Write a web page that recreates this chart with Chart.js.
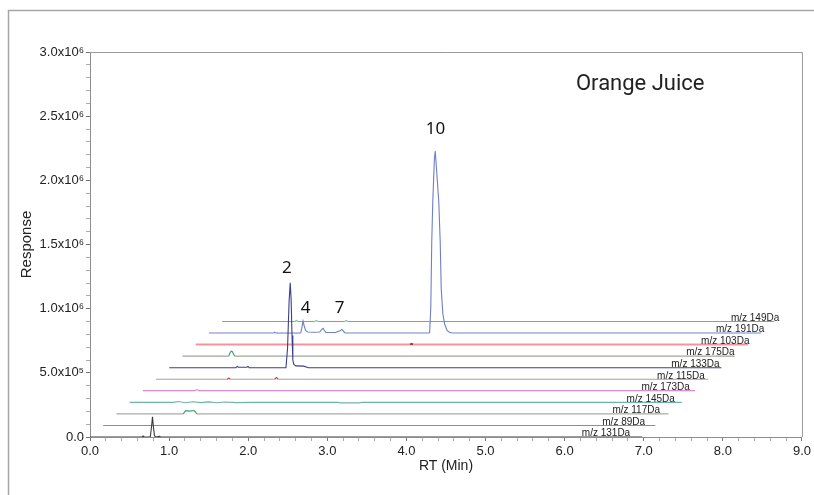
<!DOCTYPE html>
<html>
<head>
<meta charset="utf-8">
<script src="https://cdn.jsdelivr.net/npm/chart.js@4.4.1/dist/chart.umd.min.js"></script>
<style>
    html, body { margin: 0; padding: 0; background: #fff; }
    #wrap { width: 814px; height: 495px; }
</style>
</head>
<body>
<div id="wrap"><canvas id="chromChart" width="814" height="495"></canvas></div>
<script>
// Trazas del cromatograma: [RT relativo (min), respuesta relativa]
const trace131 = [[0, 0], [0.66, 0], [0.67, 8000], [0.68, 0], [0.762, 0], [0.778, 80000], [0.79, 158000], [0.80, 90000], [0.815, 10000], [0.83, 0], [0.88, 6000], [0.89, 0], [6.98, 0]];
const trace89 = [[0, 0], [6.98, 0]];
const trace117 = [[0, 0], [0.845, 0], [0.875, 25000], [0.93, 22000], [0.98, 26000], [1.0, 15000], [1.015, 0], [6.98, 0]];
const trace145 = [[0, 0], [0.55, 0], [0.62, 6000], [0.7, -3000], [0.8, 5000], [0.9, -2000], [1.0, 4000], [1.1, -3000], [1.2, 3000], [1.35, -2000], [1.55, 0], [2.64, 0], [2.66, -4000], [2.91, -4000], [2.93, 0], [6.98, 0]];
const trace173 = [[0, 0], [0.66, 0], [0.683, 10000], [0.705, 0], [6.98, 0]];
const trace115 = [[0, 0], [0.9, 0], [0.92, 8000], [0.94, 0], [1.5, 0], [1.522, 14000], [1.545, 0], [6.98, 0]];
const trace133 = [[0, 0], [0.84, 0], [0.86, 10000], [0.875, 4000], [0.98, 4000], [0.995, 10000], [1.01, 0], [1.475, 0], [1.495, 150000], [1.515, 520000], [1.529, 662000], [1.54, 540000], [1.552, 250000], [1.562, 60000], [1.575, 25000], [1.6, 14000], [1.7, 12000], [1.76, 0], [6.98, 0]];
const trace175 = [[0, 0], [0.585, 0], [0.6, 25000], [0.615, 39000], [0.63, 36000], [0.645, 15000], [0.66, 0], [6.98, 0]];
const trace103 = [[0, 0], [2.71, 0], [2.729, 6000], [2.75, 0], [6.98, 0]];
const trace191 = [[0, 0], [0.82, 0], [0.832, 7000], [0.845, 0], [1.16, 0], [1.175, 40000], [1.19, 93000], [1.205, 55000], [1.222, 20000], [1.25, 8000], [1.33, 6000], [1.4, 8000], [1.43, 30000], [1.445, 37000], [1.46, 20000], [1.48, 5000], [1.6, 4000], [1.665, 20000], [1.68, 28000], [1.695, 18000], [1.72, 0], [2.79, 0], [2.805, 200000], [2.817, 705000], [2.83, 1021000], [2.85, 1350000], [2.861, 1418000], [2.875, 1300000], [2.906, 1021000], [2.924, 710000], [2.937, 343000], [2.957, 150000], [2.98, 70000], [3.01, 20000], [3.04, 6000], [3.08, 0], [6.98, 0]];
const trace149 = [[0, 0], [0.92, 0], [0.939, 8000], [0.96, 0], [1.17, 0], [1.192, 8000], [1.215, 0], [1.55, 0], [1.57, 8000], [1.59, 0], [6.98, 0]];

const traces = [trace131, trace89, trace117, trace145, trace173, trace115, trace133, trace175, trace103, trace191, trace149];
const traceLabels = ['m/z 131Da', 'm/z 89Da', 'm/z 117Da', 'm/z 145Da', 'm/z 173Da', 'm/z 115Da', 'm/z 133Da', 'm/z 175Da', 'm/z 103Da', 'm/z 191Da', 'm/z 149Da'];

// Desplazamiento entre trazas (vista en cascada)
const rtStep = 0.167;
const respStep = 90000;

// Etiquetas de picos
const peakLabelText = ['2', '4', '7', '10'];
const peakLabelRt = [2.487, 2.727, 3.156, 4.368];
const peakLabelResp = [1317000, 1005000, 1005000, 2400000];

const xTicksMajor = [0, 1, 2, 3, 4, 5, 6, 7, 8, 9];
const yTicksMajor = [0, 500000, 1000000, 1500000, 2000000, 2500000, 3000000];

const lineColors = ['#3a3a3a', '#7b8bd0', '#a8aca4', '#6cb4aa', '#c86cbc', '#aaa29a', '#3c3f8e', '#a2a69c', '#f2949c', '#7282c8', '#939f8c'];
const peakColors = ['#3a3a3a', '#7b8bd0', '#3f9e6a', '#6cb4aa', '#c8a0c0', '#c23a3a', '#3c3f8e', '#3aa064', '#b03030', '#6f7fc6', '#7cc49c'];

const FONT = "'Liberation Sans', Arial, sans-serif";
const SUP = { '5': '\u2075', '6': '\u2076' };

function formatResp(v) {
    v = Math.round(v);
    if (!yTicksMajor.includes(v)) return '';
    if (v === 0) return '0.0';
    const exp = Math.floor(Math.log10(v) + 1e-9);
    const mant = v / Math.pow(10, exp);
    return mant.toFixed(1) + 'x10' + SUP[String(exp)];
}

function isMajorX(v) {
    return xTicksMajor.some(t => Math.abs(t - v) < 1e-6);
}

const datasets = traces.map((pts, i) => ({
    label: traceLabels[i],
    data: pts.map(p => ({ x: p[0] + i * rtStep, y: p[1] + i * respStep })),
    borderColor: lineColors[i],
    borderWidth: i === 8 ? 2 : 1.1,
    pointRadius: 0,
    showLine: true,
    fill: false,
    tension: 0,
    segment: {
        borderColor: ctx => (pts[ctx.p0DataIndex][1] !== 0 || pts[ctx.p1DataIndex][1] !== 0) ? peakColors[i] : lineColors[i]
    }
}));

// Marcos, etiquetas de trazas, de picos y título
const decorPlugin = {
    id: 'decor',
    beforeDraw(chart) {
        const c = chart.ctx;
        c.save();
        c.strokeStyle = '#a6a6a6';
        c.lineWidth = 1.5;
        c.strokeRect(8.5, 10.5, 900, 600);
        c.restore();
    },
    afterDraw(chart) {
        const c = chart.ctx;
        const a = chart.chartArea;
        const xs = chart.scales.x, ys = chart.scales.y;
        c.save();
        c.strokeStyle = '#9a9a9a';
        c.lineWidth = 1;
        c.beginPath();
        c.moveTo(a.left, a.top + 0.5);
        c.lineTo(a.right + 0.5, a.top + 0.5);
        c.lineTo(a.right + 0.5, a.bottom);
        c.stroke();

        // etiquetas m/z al final de cada traza
        c.font = '10px ' + FONT;
        c.fillStyle = '#222';
        c.textAlign = 'right';
        c.textBaseline = 'middle';
        chart.data.datasets.forEach((ds, i) => {
            const meta = chart.getDatasetMeta(i);
            const last = meta.data[meta.data.length - 1];
            c.fillText(ds.label, last.x - 12 + i * 1.7, last.y - 3.5);
        });

        // números de pico
        c.font = "17px 'Noto Sans', 'Open Sans', sans-serif";
        c.fillStyle = '#111';
        c.textAlign = 'center';
        peakLabelText.forEach((t, k) => {
            c.fillText(t, xs.getPixelForValue(peakLabelRt[k]), ys.getPixelForValue(peakLabelResp[k]));
        });

        // título
        c.font = "22px Roboto, 'Noto Sans', sans-serif";
        c.textAlign = 'left';
        c.textBaseline = 'alphabetic';
        c.fillStyle = '#222';
        c.fillText('Orange Juice', a.right - 226, 90);
        c.restore();
    }
};

const chart = new Chart(document.getElementById('chromChart'), {
    type: 'scatter',
    data: { datasets },
    options: {
        responsive: false,
        animation: false,
        layout: { padding: { left: 10, right: 11, top: 52, bottom: 0 } },
        scales: {
            x: {
                type: 'linear',
                min: 0,
                max: 9,
                ticks: {
                    stepSize: 0.2,
                    autoSkip: false,
                    maxRotation: 0,
                    padding: 3,
                    color: '#222',
                    font: { family: FONT, size: 13 },
                    callback: v => isMajorX(v) ? v.toFixed(1) : ''
                },
                grid: {
                    drawOnChartArea: false,
                    tickLength: 4,
                    tickColor: ctx => (ctx.tick && isMajorX(ctx.tick.value)) ? '#777' : '#aaa'
                },
                border: { display: true, color: '#8c8c8c' },
                title: {
                    display: true,
                    text: 'RT (Min)',
                    color: '#222',
                    font: { family: FONT, size: 14 },
                    padding: { top: 0, bottom: 20 }
                },
                afterFit: s => { s.height = 58; }
            },
            y: {
                min: 0,
                max: 3000000,
                ticks: {
                    stepSize: 100000,
                    autoSkip: false,
                    padding: 2,
                    color: '#222',
                    font: { family: FONT, size: 13 },
                    callback: formatResp
                },
                grid: {
                    drawOnChartArea: false,
                    tickLength: 4,
                    tickColor: ctx => (ctx.tick && yTicksMajor.includes(Math.round(ctx.tick.value))) ? '#777' : '#aaa'
                },
                border: { display: true, color: '#8c8c8c' },
                title: {
                    display: true,
                    text: 'Response',
                    color: '#222',
                    font: { family: FONT, size: 15 },
                    padding: { top: 8, bottom: 0 }
                },
                afterFit: s => { s.width = 80; }
            }
        },
        plugins: {
            legend: { display: false },
            tooltip: { enabled: false }
        }
    },
    plugins: [decorPlugin]
});
</script>
</body>
</html>
